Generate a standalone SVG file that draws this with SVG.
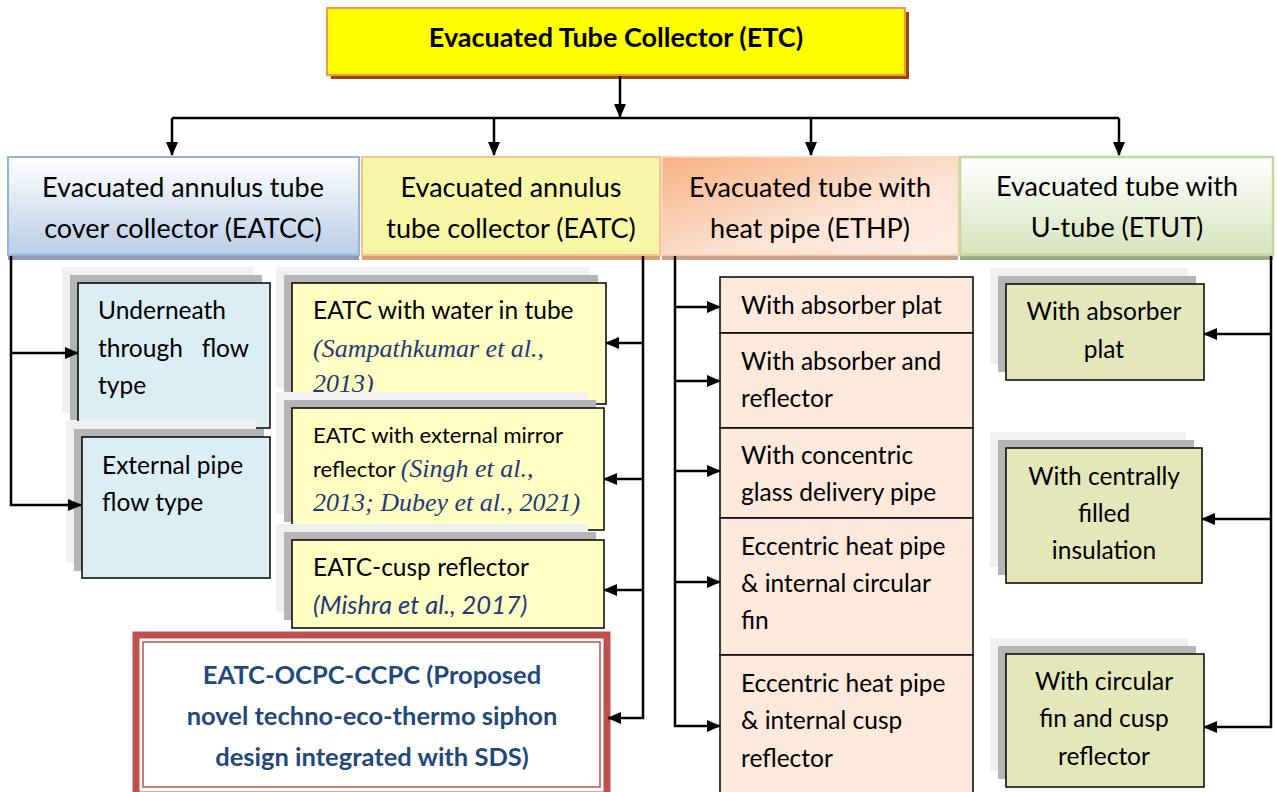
<svg xmlns="http://www.w3.org/2000/svg" width="1277" height="792" viewBox="0 0 1277 792">
<defs>
  <marker id="arr" markerUnits="userSpaceOnUse" markerWidth="14" markerHeight="14" viewBox="0 0 14 14" refX="13" refY="7" orient="auto">
    <path d="M0,1 L14,7 L0,13 Z" fill="#000"/>
  </marker>
  <linearGradient id="gBlue" x1="0" y1="0" x2="0" y2="1">
    <stop offset="0" stop-color="#ffffff"/>
    <stop offset="1" stop-color="#b9cde5"/>
  </linearGradient>
  <linearGradient id="gOrange" x1="0" y1="0" x2="1" y2="1">
    <stop offset="0" stop-color="#f7b183"/>
    <stop offset="0.6" stop-color="#fce4d4"/>
    <stop offset="1" stop-color="#fdeee4"/>
  </linearGradient>
  <linearGradient id="gGreen" x1="0" y1="0" x2="0" y2="1">
    <stop offset="0" stop-color="#ffffff"/>
    <stop offset="1" stop-color="#d7e4bd"/>
  </linearGradient>
  <style>
    .t{font-family:Lato,"Open Sans",sans-serif;fill:#000}
    .h{font-size:27px;text-anchor:middle}
    .c{font-size:24.5px}
    .m{text-anchor:middle}
    .ref{font-family:"Liberation Serif",serif;font-style:italic;fill:#1f3a7a;font-size:26px}
    .refs{font-family:Lato,sans-serif;font-style:italic;fill:#1f3a7a;font-size:25.5px}
    .p{font-family:Lato,sans-serif;font-size:25.5px;font-weight:bold;text-anchor:middle;fill:#1f497d}
    .conn{fill:none;stroke:#000;stroke-width:2.5}
    .sh1{fill:#f0f0f0}
    .sh2{fill:#b5b5b5}
    .bx{stroke:#000;stroke-width:1.5}
  </style>
</defs>
<rect width="1277" height="792" fill="#fff"/>

<g id="etc">
  <rect x="331" y="12" width="578" height="67" fill="#984807"/>
  <rect x="327" y="8" width="578" height="67" fill="#ffff00" stroke="#f79646" stroke-width="2"/>
  <text class="t" x="616" y="47" font-size="27" font-weight="bold" text-anchor="middle">Evacuated Tube Collector (ETC)</text>
</g>

<g id="eatcc">
  <rect x="8" y="161" width="351" height="99" fill="#8a9bb2"/>
  <rect x="8" y="157" width="351" height="98" fill="url(#gBlue)" stroke="#95b3d7" stroke-width="2"/>
  <text class="t h" x="183" y="197">Evacuated annulus tube</text>
  <text class="t h" x="183" y="238">cover collector (EATCC)</text>
</g>
<g id="eatc">
  <rect x="362" y="161" width="298" height="99" fill="#d9a074"/>
  <rect x="362" y="157" width="298" height="98" fill="#f7f7a6" stroke="#fac090" stroke-width="2"/>
  <text class="t h" x="511" y="197">Evacuated annulus</text>
  <text class="t h" x="511" y="238">tube collector (EATC)</text>
</g>
<g id="ethp">
  <rect x="662" y="161" width="296" height="99" fill="#c9a088"/>
  <rect x="662" y="157" width="296" height="98" fill="url(#gOrange)" stroke="#fbd4b4" stroke-width="1.5"/>
  <text class="t h" x="810" y="197">Evacuated tube with</text>
  <text class="t h" x="810" y="238">heat pipe (ETHP)</text>
</g>
<g id="etut">
  <rect x="960" y="161" width="313" height="99" fill="#9aa88a"/>
  <rect x="960" y="157" width="313" height="98" fill="url(#gGreen)" stroke="#c3d69b" stroke-width="2.5"/>
  <text class="t h" x="1117" y="196">Evacuated tube with</text>
  <text class="t h" x="1117" y="237">U-tube (ETUT)</text>
</g>

<g id="underneath">
  <rect class="sh1" x="62" y="267" width="192" height="146"/>
  <rect class="sh2" x="70" y="275" width="192" height="145"/>
  <rect class="bx" x="78" y="283" width="192" height="145" fill="#dbeef4"/>
  <text class="t c" x="98" y="319">Underneath</text>
  <text class="t c" x="98" y="357" xml:space="preserve">through   flow</text>
  <text class="t c" x="98" y="394">type</text>
</g>
<g id="external">
  <rect class="sh1" x="66" y="421" width="190" height="142"/>
  <rect class="sh2" x="74" y="429" width="190" height="142"/>
  <rect class="bx" x="82" y="437" width="188" height="141" fill="#dbeef4"/>
  <text class="t c" x="102" y="474">External pipe</text>
  <text class="t c" x="102" y="511">flow type</text>
</g>

<g id="eatc-water">
  <rect class="sh1" x="276" y="267" width="314" height="121"/>
  <rect class="sh2" x="284" y="275" width="314" height="121"/>
  <rect class="bx" x="292" y="283" width="314" height="121" fill="#ffffc3"/>
  <text class="t c" x="313" y="319">EATC with water in tube</text>
  <text class="ref" x="313" y="357">(Sampathkumar et al.,</text>
  <text class="ref" x="313" y="392">2013)</text>
</g>
<g id="eatc-mirror">
  <rect class="sh1" x="276" y="392" width="312" height="122"/>
  <rect class="sh2" x="284" y="400" width="312" height="122"/>
  <rect class="bx" x="292" y="408" width="312" height="122" fill="#ffffc3"/>
  <text class="t" x="313" y="443" font-size="22">EATC with external mirror</text>
  <text x="313" y="477"><tspan class="t" font-size="22">reflector </tspan><tspan class="ref" font-size="23.5">(Singh et al.,</tspan></text>
  <text class="ref" x="313" y="511" font-size="23.5">2013; Dubey et al., 2021)</text>
</g>
<g id="eatc-cusp">
  <rect class="sh1" x="276" y="524" width="312" height="88"/>
  <rect class="sh2" x="284" y="532" width="312" height="88"/>
  <rect class="bx" x="292" y="540" width="312" height="88" fill="#ffffc3"/>
  <text class="t c" x="313" y="576">EATC-cusp reflector</text>
  <text class="refs" x="313" y="614">(Mishra et al., 2017)</text>
</g>

<g id="proposed">
  <rect x="136" y="635" width="471" height="160" fill="#fff" stroke="#c0504d" stroke-width="7"/>
  <rect x="143" y="642" width="457" height="145" fill="none" stroke="#c0504d" stroke-width="1.5"/>
  <text class="p" x="372" y="684">EATC-OCPC-CCPC (Proposed</text>
  <text class="p" x="372" y="725">novel techno-eco-thermo siphon</text>
  <text class="p" x="372" y="766">design integrated with SDS)</text>
</g>

<g id="ethp1">
  <rect class="bx" x="720" y="277" width="253" height="56" fill="#fde9db"/>
  <text class="t c" x="741" y="314">With absorber plat</text>
</g>
<g id="ethp2">
  <rect class="bx" x="720" y="333" width="253" height="95" fill="#fde9db"/>
  <text class="t c" x="741" y="370">With absorber and</text>
  <text class="t c" x="741" y="407">reflector</text>
</g>
<g id="ethp3">
  <rect class="bx" x="720" y="428" width="253" height="90" fill="#fde9db"/>
  <text class="t c" x="741" y="464">With concentric</text>
  <text class="t c" x="741" y="501">glass delivery pipe</text>
</g>
<g id="ethp4">
  <rect class="bx" x="720" y="518" width="253" height="137" fill="#fde9db"/>
  <text class="t c" x="741" y="555">Eccentric heat pipe</text>
  <text class="t c" x="741" y="592">&amp; internal circular</text>
  <text class="t c" x="741" y="629">fin</text>
</g>
<g id="ethp5">
  <rect class="bx" x="720" y="655" width="253" height="145" fill="#fde9db"/>
  <text class="t c" x="741" y="692">Eccentric heat pipe</text>
  <text class="t c" x="741" y="729">&amp; internal cusp</text>
  <text class="t c" x="741" y="767">reflector</text>
</g>

<g id="etut1">
  <rect class="sh1" x="990" y="268" width="198" height="96"/>
  <rect class="sh2" x="998" y="276" width="198" height="96"/>
  <rect class="bx" x="1006" y="284" width="198" height="96" fill="#e4e7ba"/>
  <text class="t c m" x="1104" y="320">With absorber</text>
  <text class="t c m" x="1104" y="358">plat</text>
</g>
<g id="etut2">
  <rect class="sh1" x="990" y="432" width="196" height="135"/>
  <rect class="sh2" x="998" y="440" width="196" height="135"/>
  <rect class="bx" x="1006" y="448" width="196" height="135" fill="#e4e7ba"/>
  <text class="t c m" x="1104" y="485">With centrally</text>
  <text class="t c m" x="1104" y="522">filled</text>
  <text class="t c m" x="1104" y="559">insulation</text>
</g>
<g id="etut3">
  <rect class="sh1" x="990" y="638" width="198" height="133"/>
  <rect class="sh2" x="998" y="646" width="198" height="133"/>
  <rect class="bx" x="1006" y="654" width="198" height="133" fill="#e4e7ba"/>
  <text class="t c m" x="1104" y="690">With circular</text>
  <text class="t c m" x="1104" y="727">fin and cusp</text>
  <text class="t c m" x="1104" y="765">reflector</text>
</g>

<g id="connectors">
  <path class="conn" d="M620,76 V117" marker-end="url(#arr)"/>
  <path class="conn" d="M172,118 H1119"/>
  <path class="conn" d="M172,118 V155" marker-end="url(#arr)"/>
  <path class="conn" d="M494,118 V155" marker-end="url(#arr)"/>
  <path class="conn" d="M811,118 V155" marker-end="url(#arr)"/>
  <path class="conn" d="M1119,118 V155" marker-end="url(#arr)"/>

  <path class="conn" d="M11,256 V505 H81" marker-end="url(#arr)"/>
  <path class="conn" d="M11,353 H78" marker-end="url(#arr)"/>

  <path class="conn" d="M643,256 V718 H608" marker-end="url(#arr)"/>
  <path class="conn" d="M643,343 H606" marker-end="url(#arr)"/>
  <path class="conn" d="M643,479 H604" marker-end="url(#arr)"/>
  <path class="conn" d="M643,590 H604" marker-end="url(#arr)"/>

  <path class="conn" d="M675,256 V726 H720" marker-end="url(#arr)"/>
  <path class="conn" d="M675,307 H720" marker-end="url(#arr)"/>
  <path class="conn" d="M675,381 H720" marker-end="url(#arr)"/>
  <path class="conn" d="M675,471 H720" marker-end="url(#arr)"/>
  <path class="conn" d="M675,582 H720" marker-end="url(#arr)"/>

  <path class="conn" d="M1271,256 V727 H1204" marker-end="url(#arr)"/>
  <path class="conn" d="M1271,334 H1204" marker-end="url(#arr)"/>
  <path class="conn" d="M1271,519 H1202" marker-end="url(#arr)"/>
</g>
</svg>
